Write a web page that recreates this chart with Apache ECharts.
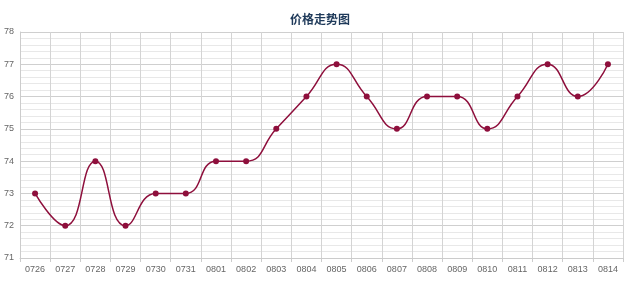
<!DOCTYPE html>
<html><head><meta charset="utf-8">
<script src="https://cdn.jsdelivr.net/npm/echarts@6/dist/echarts.min.js"></script>
<style>html,body{margin:0;padding:0;background:#fff}#c{width:640px;height:281px}</style>
</head><body><div id="c"></div>
<script>
var categories = ['0726','0727','0728','0729','0730','0731','0801','0802','0803','0804','0805','0806','0807','0808','0809','0810','0811','0812','0813','0814'];
var prices = [73,72,74,72,73,73,74,74,75,76,77,76,75,76,76,75,76,77,76,77];
var titleText = '价格走势图';
var chart = echarts.init(document.getElementById('c'));
chart.setOption({
  animation:false,
  title:{text:titleText,left:'center',top:8,textStyle:{fontSize:12,fontWeight:'bold',color:'#1F3A5A',fontFamily:'"Noto Sans CJK SC", sans-serif'}},
  grid:{left:20,right:17,top:32,bottom:23},
  xAxis:{type:'category',data:categories,boundaryGap:true,
    axisLine:{lineStyle:{color:'#cccccc'}},
    axisTick:{show:true,length:4,lineStyle:{color:'#cccccc'}},
    axisLabel:{color:'#666',fontSize:9,margin:7,fontFamily:'"Liberation Sans", sans-serif'},
    splitLine:{show:true,lineStyle:{color:'#d4d4d4'}}},
  yAxis:{type:'value',min:71,max:78,interval:1,
    axisLine:{show:true,lineStyle:{color:'#cccccc'}},
    axisTick:{show:false},
    axisLabel:{color:'#666',fontSize:9,margin:6,fontFamily:'"Liberation Sans", sans-serif'},
    splitLine:{lineStyle:{color:'#cfcfcf'}},
    minorTick:{show:false,splitNumber:5},
    minorSplitLine:{show:true,lineStyle:{color:'#e8e8e8'}}},
  series:[{type:'line',data:prices,smooth:0.5,symbol:'circle',symbolSize:6,
    itemStyle:{color:'#8E0F3C'},lineStyle:{color:'#8E0F3C',width:1.5}}]
});
</script></body></html>
